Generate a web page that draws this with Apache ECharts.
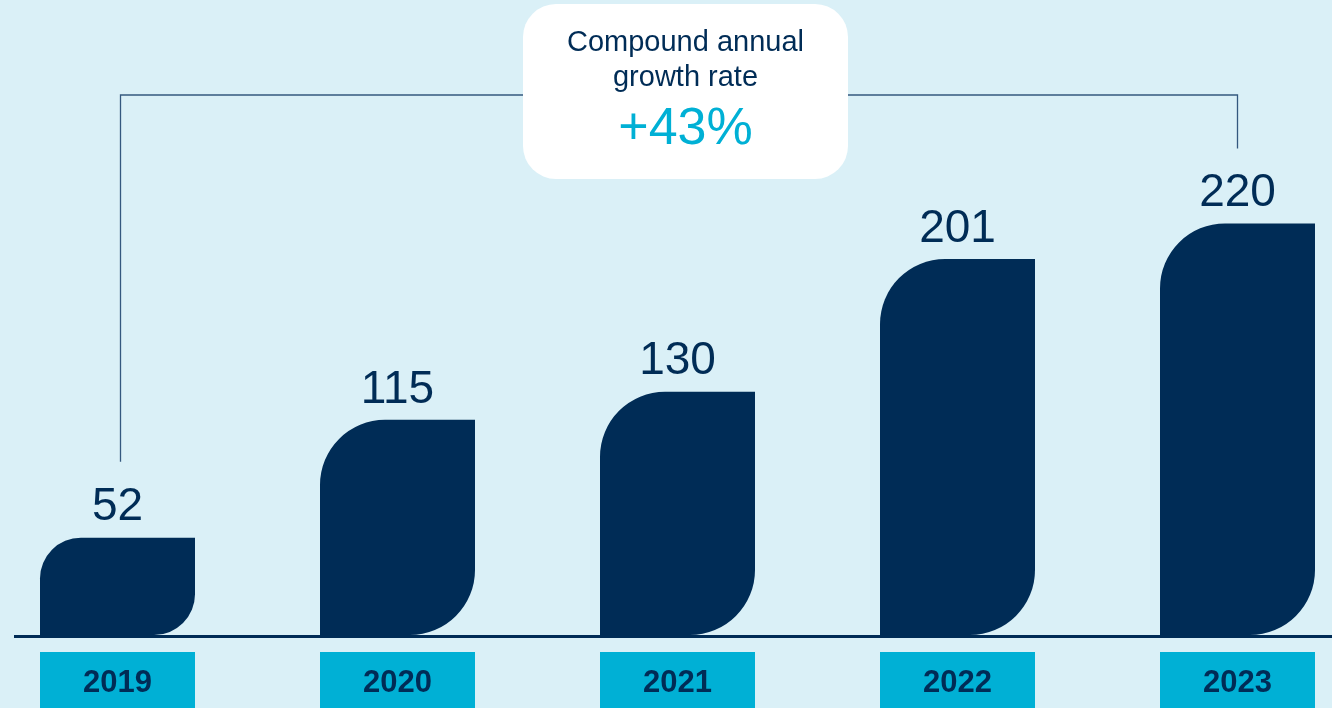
<!DOCTYPE html>
<html>
<head>
<meta charset="utf-8">
<script src="https://cdn.jsdelivr.net/npm/echarts@6/dist/echarts.min.js"></script>
<style>
  html, body { margin: 0; padding: 0; background: #DAF0F7; }
  #chart { width: 1332px; height: 708px; }
</style>
</head>
<body>
<div id="chart"></div>
<script>
// Annual figures
const years = ['2019', '2020', '2021', '2022', '2023'];
const values = [52, 115, 130, 201, 220];

// Growth call-out text
const growthTitle = ['Compound annual', 'growth rate'];
const growthValue = '+43%';

const NAVY = '#002C56';
const CYAN = '#00B0D5';
const BG = '#DAF0F7';
const FONT = "'Liberation Sans', Arial, sans-serif";
const BAR_RATIO = 155 / 280;

const chart = echarts.init(document.getElementById('chart'), null, { renderer: 'canvas' });

// Leaf-shaped bar: rounded top-left and bottom-right corners, value above
function renderBar(params, api) {
  const cat = api.value(0);
  const val = api.value(1);
  const base = api.coord([cat, 0]);
  const top = api.coord([cat, val]);
  const w = api.size([1, 0])[0] * BAR_RATIO;
  const h = base[1] - top[1];
  const r = 0.42 * Math.min(w, h);
  return {
    type: 'group',
    children: [
      {
        type: 'rect',
        shape: { x: base[0] - w / 2, y: top[1], width: w, height: h, r: [r, 0, r, 0] },
        style: { fill: NAVY }
      },
      {
        type: 'text',
        x: base[0],
        y: top[1] - 30,
        style: {
          text: String(val),
          font: '46px ' + FONT,
          fill: NAVY,
          align: 'center',
          verticalAlign: 'middle'
        }
      }
    ]
  };
}

chart.setOption({
  backgroundColor: BG,
  animation: false,
  grid: { left: -22.5, top: 186, width: 1400, height: 449, outerBoundsMode: 'none', containLabel: false },
  xAxis: {
    type: 'category',
    data: years,
    axisLine: { show: false },
    axisTick: { show: false },
    axisLabel: {
      interval: 0,
      margin: 17,
      color: NAVY,
      fontFamily: FONT,
      fontSize: 31,
      fontWeight: 'bold',
      backgroundColor: CYAN,
      width: 155,
      height: 58,
      lineHeight: 58,
      padding: [2, 0, 0, 0],
      align: 'center',
      verticalAlign: 'top'
    }
  },
  yAxis: { type: 'value', min: 0, max: 240, show: false },
  series: [{
    type: 'custom',
    renderItem: renderBar,
    clip: false,
    data: values.map((v, i) => [i, v])
  }]
});

// Baseline and growth bracket, anchored to the first and last bars
const zero = chart.convertToPixel({ seriesIndex: 0 }, [0, 0]);
const pL = chart.convertToPixel({ seriesIndex: 0 }, [0, values[0]]);
const pR = chart.convertToPixel({ seriesIndex: 0 }, [years.length - 1, values[values.length - 1]]);
const bracketY = 95;
const boxX = 523, boxY = 4, boxW = 325, boxH = 175;
const cx = boxX + boxW / 2;

chart.setOption({
  graphic: [
    {
      type: 'line',
      z: 10,
      shape: { x1: 14, y1: zero[1] + 1.5, x2: 1332, y2: zero[1] + 1.5 },
      style: { stroke: NAVY, lineWidth: 3 }
    },
    {
      type: 'polyline',
      z: 10,
      shape: { points: [[pL[0] + 3, pL[1] - 76], [pL[0] + 3, bracketY], [pR[0], bracketY], [pR[0], pR[1] - 75]] },
      style: { stroke: '#34587F', lineWidth: 1.3, fill: null }
    },
    {
      type: 'rect',
      z: 11,
      shape: { x: boxX, y: boxY, width: boxW, height: boxH, r: 33 },
      style: { fill: '#FFFFFF' }
    },
    {
      type: 'text',
      z: 12,
      x: cx, y: 43,
      style: { text: growthTitle[0], font: '29px ' + FONT, fill: NAVY, align: 'center', verticalAlign: 'middle' }
    },
    {
      type: 'text',
      z: 12,
      x: cx, y: 78,
      style: { text: growthTitle[1], font: '29px ' + FONT, fill: NAVY, align: 'center', verticalAlign: 'middle' }
    },
    {
      type: 'text',
      z: 12,
      x: cx, y: 130,
      style: { text: growthValue, font: '52px ' + FONT, fill: CYAN, align: 'center', verticalAlign: 'middle' }
    }
  ]
});
</script>
</body>
</html>
